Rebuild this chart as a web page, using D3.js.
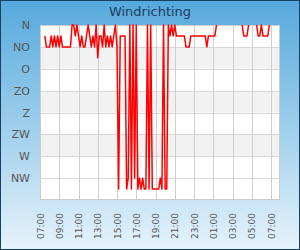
<!doctype html>
<html>
<head>
<meta charset="utf-8"/>
<script src="https://cdnjs.cloudflare.com/ajax/libs/d3/7.8.5/d3.min.js"></script>
<style>
  body { margin: 0; }
  text { font-family: "DejaVu Sans", sans-serif; }
  .grid { stroke: #d8d8d8; stroke-width: 1px; }
  .vgrid { stroke: #cfcfcf; stroke-width: 1px; }
</style>
</head>
<body>
<svg width="300" height="250"></svg>
<script>
// wind direction in degrees, one reading every 10 minutes from 07:30
var startTime = "2024-05-01 07:30";
var stepMinutes = 10;
var windDir = [
  22.5, 45, 45, 45, 22.5, 45, 22.5, 45, 22.5, 45,
  22.5, 45, 45, 45, 45, 45, 45, 0, 0, 22.5,
  0, 22.5, 45, 22.5, 45, 45, 22.5, 0, 22.5, 45,
  22.5, 45, 0, 67.5, 22.5, 22.5, 45, 0, 45, 22.5,
  45, 22.5, 45, 22.5, 0, 45, 337.5, 22.5, 22.5, 22.5,
  22.5, 337.5, 315, 0, 337.5, 0, 315, 0, 337.5, 315,
  337.5, 315, 337.5, 337.5, 0, 337.5, 0, 337.5, 337.5, 337.5,
  337.5, 337.5, 315, 337.5, 0, 337.5, 337.5, 0, 22.5, 0,
  22.5, 0, 22.5, 22.5, 22.5, 22.5, 22.5, 22.5, 45, 45,
  45, 22.5, 22.5, 22.5, 22.5, 22.5, 22.5, 22.5, 22.5, 22.5,
  22.5, 45, 22.5, 22.5, 22.5, 22.5, 22.5, 0, null, null,
  null, null, null, null, null, null, null, null, null, null,
  null, null, null, 0, 22.5, 22.5, 22.5, 0, null, null,
  null, null, 0, 22.5, 22.5, 0, 22.5, 22.5, 22.5, 22.5,
  0, null, null, null, null, null, null
];
var yLabels = ["N", "NO", "O", "ZO", "Z", "ZW", "W", "NW"];
var xTicks = ["2024-05-01 07:00", "2024-05-01 09:00", "2024-05-01 11:00", "2024-05-01 13:00",
  "2024-05-01 15:00", "2024-05-01 17:00", "2024-05-01 19:00", "2024-05-01 21:00",
  "2024-05-01 23:00", "2024-05-02 01:00", "2024-05-02 03:00", "2024-05-02 05:00",
  "2024-05-02 07:00"];
var xDomain = ["2024-05-01 07:00", "2024-05-02 07:56"];

(function () {
var parse = d3.timeParse("%Y-%m-%d %H:%M");
var t0 = parse(startTime);
var data = windDir.map((v, i) => ({ t: d3.timeMinute.offset(t0, i * stepMinutes), v: v }));

var W = 300, H = 250;
var pl = 40, pr = 280, pt = 25, pb = 200;

var svg = d3.select("svg");
var defs = svg.append("defs");
var grad = defs.append("linearGradient").attr("id", "bg")
  .attr("x1", 0).attr("y1", 0).attr("x2", 0).attr("y2", 1);
grad.append("stop").attr("offset", "0%").attr("stop-color", "#55a9dc");
grad.append("stop").attr("offset", "100%").attr("stop-color", "#e6f3fb");
defs.append("clipPath").attr("id", "clip").append("rect")
  .attr("x", pl).attr("y", pt - 1).attr("width", pr - pl).attr("height", pb - pt + 1);

svg.append("rect").attr("x", 0.5).attr("y", 0.5).attr("width", W - 1).attr("height", H - 1)
  .attr("fill", "url(#bg)").attr("stroke", "#173f68").attr("stroke-width", 1);

var x = d3.scaleTime().domain(xDomain.map(parse)).range([pl, pr]);
var y = d3.scaleLinear().domain([0, 360]).range([pt, pb]);

svg.append("rect").attr("x", pl).attr("y", pt).attr("width", pr - pl).attr("height", pb - pt)
  .attr("fill", "#fff");

// grey bands between every second pair of directions
svg.append("g").selectAll("rect")
  .data([1, 3, 5])
  .enter().append("rect")
  .attr("x", pl).attr("width", pr - pl)
  .attr("y", i => y(i * 45))
  .attr("height", i => y((i + 1) * 45) - y(i * 45))
  .attr("fill", "#f2f2f2");

var yVals = yLabels.map((d, i) => i * 45);
svg.append("g").selectAll("line")
  .data(yVals)
  .enter().append("line").attr("class", "grid")
  .attr("x1", pl).attr("x2", pr)
  .attr("y1", d => Math.round(y(d)) + 0.5).attr("y2", d => Math.round(y(d)) + 0.5);

var tickDates = xTicks.map(parse);
svg.append("g").selectAll("line")
  .data(tickDates)
  .enter().append("line").attr("class", "vgrid")
  .attr("y1", pt).attr("y2", pb)
  .attr("x1", d => Math.round(x(d)) + 0.5).attr("x2", d => Math.round(x(d)) + 0.5);

svg.append("rect").attr("x", pl + 0.5).attr("y", pt + 0.5)
  .attr("width", pr - pl - 1).attr("height", pb - pt - 1)
  .attr("fill", "none").attr("stroke", "#cccccc");

var line = d3.line()
  .defined(d => d.v !== null)
  .x(d => x(d.t))
  .y(d => y(d.v));

svg.append("path")
  .datum(data)
  .attr("clip-path", "url(#clip)")
  .attr("fill", "none")
  .attr("stroke", "#ff0000")
  .attr("stroke-width", 1.5)
  .attr("stroke-linejoin", "round")
  .attr("d", line);

// y axis labels
var yAxis = d3.axisLeft(y).tickValues(yVals).tickFormat((d, i) => yLabels[i]).tickSize(0).tickPadding(10);
var ya = svg.append("g").attr("transform", "translate(" + pl + ",0)").call(yAxis);
ya.select(".domain").remove();
ya.selectAll("text").attr("font-size", 11).attr("fill", "#555").attr("font-family", "DejaVu Sans");

// x axis labels
var xAxis = d3.axisBottom(x).tickValues(tickDates).tickFormat(d3.timeFormat("%H:%M")).tickSize(0);
var xa = svg.append("g").attr("transform", "translate(0," + pb + ")").call(xAxis);
xa.select(".domain").remove();
xa.selectAll("text")
  .attr("font-size", 9).attr("fill", "#555").attr("font-family", "Liberation Sans")
  .attr("text-anchor", "end")
  .attr("dy", null)
  .attr("transform", "translate(3,13) rotate(-90)")
  .attr("y", 0);

svg.append("text").attr("x", 150).attr("y", 16).attr("text-anchor", "middle")
  .attr("font-size", 13).attr("fill", "#1f3d63").text("Windrichting");
})();
</script>
</body>
</html>
